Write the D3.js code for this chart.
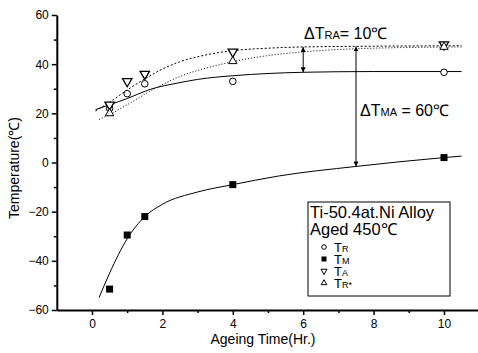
<!DOCTYPE html>
<html>
<head>
<meta charset="utf-8">
<script src="https://cdn.jsdelivr.net/npm/d3@7"></script>
<style>
  body { margin: 0; background: #fff; }
  text { font-family: Arial, "Liberation Sans", sans-serif; fill: #000; }
</style>
</head>
<body>
<div id="chart"></div>
<script>
// measured points (ageing time in hours, temperature in C)
const times = [0.5, 1, 1.5, 4, 10];
const tR = [22, 28, 32, 33, 36.7];
const tM = [-51.5, -29.5, -22, -9, 2];
const tA = [23.5, 33, 36, 45, 48];
const tRStarTimes = [0.5, 4, 10];
const tRStar = [20, 41.2, 47];

// fitted curves
const fitR = [[0.1, 21.5], [0.5, 23.5], [1, 26], [1.6, 29.5], [2.5, 32.5], [3, 33.8], [4, 35.3], [5, 36.2], [6, 36.7], [8, 37], [10.5, 37]];
const fitA = [[0.1, 21], [0.5, 24.5], [1, 29.5], [1.5, 34], [2, 38], [2.5, 41], [3, 43], [4, 45.5], [5, 46.5], [6, 47], [8, 47.3], [10.5, 47.5]];
const fitRStar = [[0.2, 17.5], [0.5, 19.5], [1, 23.5], [1.65, 29], [2.5, 35], [3.4, 39], [4, 41], [5, 43.5], [6, 45], [8, 46.5], [10.5, 47]];
const fitM = [[0.2, -55], [0.5, -45], [1, -31], [1.5, -22], [2, -17], [3, -12], [4, -9], [5.3, -5.5], [7.5, -1.6], [10, 2], [10.5, 2.6]];

// annotation arrows: [time, top value, bottom value]
const arrowRA = [6, 47, 36.7];
const arrowMA = [7.5, 47.2, -1.6];

const yTicks = [-60, -40, -20, 0, 20, 40, 60];
const yMinor = [-50, -30, -10, 10, 30, 50];
const xTicks = [0, 2, 4, 6, 8, 10];
const xMinor = [1, 3, 5, 7, 9];

const width = 478, height = 353;

const x = d3.scaleLinear().domain([-1, 11]).range([56.8, 479.2]);
const y = d3.scaleLinear().domain([-60, 60]).range([310, 15]);

const svg = d3.select('#chart').append('svg')
  .attr('width', width)
  .attr('height', height);

const defs = svg.append('defs');
defs.append('marker')
  .attr('id', 'arrow')
  .attr('viewBox', '0 0 6 6')
  .attr('refX', 6).attr('refY', 3)
  .attr('markerWidth', 5).attr('markerHeight', 5)
  .attr('orient', 'auto-start-reverse')
  .append('path')
  .attr('d', 'M0,0L6,3L0,6Z')
  .attr('fill', '#000');

// axes
svg.append('g')
  .attr('transform', 'translate(' + x(-1) + ',0)')
  .call(d3.axisLeft(y).tickValues(yTicks).tickSize(5).tickSizeOuter(0).tickPadding(3));
svg.append('g')
  .attr('transform', 'translate(' + x(-1) + ',0)')
  .call(d3.axisLeft(y).tickValues(yMinor).tickSize(3).tickFormat(''))
  .select('.domain').remove();

svg.append('g')
  .attr('transform', 'translate(0,' + y(-60) + ')')
  .call(d3.axisBottom(x).tickValues(xTicks).tickSize(5).tickSizeOuter(0).tickPadding(4));
svg.append('g')
  .attr('transform', 'translate(0,' + y(-60) + ')')
  .call(d3.axisBottom(x).tickValues(xMinor).tickSize(3).tickFormat(''))
  .select('.domain').remove();

svg.selectAll('.domain').attr('stroke-width', 2);
svg.selectAll('.tick line').attr('stroke-width', 1.5);
svg.selectAll('.tick text')
  .style('font-size', '12px')
  .style('font-family', 'Arial, "Liberation Sans", sans-serif');

svg.append('text')
  .attr('x', 263).attr('y', 344)
  .attr('text-anchor', 'middle')
  .style('font-size', '14px')
  .text('Ageing Time(Hr.)');

svg.append('text')
  .attr('transform', 'translate(19,168) rotate(-90)')
  .attr('text-anchor', 'middle')
  .style('font-size', '14px')
  .text('Temperature(℃)');

// fitted curves
const line = d3.line()
  .x(d => x(d[0]))
  .y(d => y(d[1]))
  .curve(d3.curveMonotoneX);

svg.append('path').datum(fitR)
  .attr('d', line).attr('fill', 'none')
  .attr('stroke', '#000').attr('stroke-width', 1);
svg.append('path').datum(fitA)
  .attr('d', line).attr('fill', 'none')
  .attr('stroke', '#000').attr('stroke-width', 1)
  .attr('stroke-dasharray', '2,2');
svg.append('path').datum(fitRStar)
  .attr('d', line).attr('fill', 'none')
  .attr('stroke', '#000').attr('stroke-width', 1)
  .attr('stroke-dasharray', '1,2');
svg.append('path').datum(fitM)
  .attr('d', line).attr('fill', 'none')
  .attr('stroke', '#000').attr('stroke-width', 1);

// symbols
const triDown = d3.symbol().type(d3.symbolTriangle).size(38);
const triUp = d3.symbol().type(d3.symbolTriangle).size(30);

svg.append('g').selectAll('circle')
  .data(times.map((t, i) => [t, tR[i]]))
  .enter().append('circle')
  .attr('cx', d => x(d[0])).attr('cy', d => y(d[1]))
  .attr('r', 3.3)
  .attr('fill', '#fff').attr('stroke', '#000').attr('stroke-width', 1);

svg.append('g').selectAll('rect')
  .data(times.map((t, i) => [t, tM[i]]))
  .enter().append('rect')
  .attr('x', d => x(d[0]) - 3.5).attr('y', d => y(d[1]) - 3.5)
  .attr('width', 7).attr('height', 7)
  .attr('fill', '#000');

svg.append('g').selectAll('path')
  .data(times.map((t, i) => [t, tA[i]]))
  .enter().append('path')
  .attr('d', triDown)
  .attr('transform', d => 'translate(' + x(d[0]) + ',' + y(d[1]) + ') rotate(180)')
  .attr('fill', '#fff').attr('stroke', '#000').attr('stroke-width', 1.3);

svg.append('g').selectAll('path')
  .data(tRStarTimes.map((t, i) => [t, tRStar[i]]))
  .enter().append('path')
  .attr('d', triUp)
  .attr('transform', d => 'translate(' + x(d[0]) + ',' + y(d[1]) + ')')
  .attr('fill', '#fff').attr('stroke', '#000').attr('stroke-width', 1);

// annotation arrows
[arrowRA, arrowMA].forEach(a => {
  svg.append('line')
    .attr('x1', x(a[0])).attr('x2', x(a[0]))
    .attr('y1', y(a[1])).attr('y2', y(a[2]))
    .attr('stroke', '#000').attr('stroke-width', 1)
    .attr('marker-start', 'url(#arrow)')
    .attr('marker-end', 'url(#arrow)');
});

const ra = svg.append('text').attr('x', 304).attr('y', 39).style('font-size', '16px');
ra.append('tspan').text('ΔT');
ra.append('tspan').style('font-size', '11px').text('RA');
ra.append('tspan').text('= 10℃');

const ma = svg.append('text').attr('x', 360).attr('y', 116).style('font-size', '16px');
ma.append('tspan').text('ΔT');
ma.append('tspan').style('font-size', '11px').text('MA');
ma.append('tspan').text(' = 60℃');

// legend
const legend = svg.append('g');
legend.append('rect')
  .attr('x', 308).attr('y', 202)
  .attr('width', 142).attr('height', 94)
  .attr('fill', '#fff').attr('stroke', '#000').attr('stroke-width', 1);
legend.append('text').attr('x', 310).attr('y', 218).style('font-size', '16.5px').text('Ti-50.4at.Ni Alloy');
legend.append('text').attr('x', 310).attr('y', 235).style('font-size', '16.5px').text('Aged 450℃');

const legendRows = [
  { sym: 'circle', main: 'T', sub: 'R' },
  { sym: 'square', main: 'T', sub: 'M' },
  { sym: 'down', main: 'T', sub: 'A' },
  { sym: 'up', main: 'T', sub: 'R*' }
];
legendRows.forEach((r, i) => {
  const cy = 247 + i * 12;
  const g = legend.append('g').attr('transform', 'translate(324,' + cy + ')');
  if (r.sym === 'circle') {
    g.append('circle').attr('r', 2.3).attr('fill', '#fff').attr('stroke', '#000');
  } else if (r.sym === 'square') {
    g.append('rect').attr('x', -2.5).attr('y', -2.5).attr('width', 5).attr('height', 5).attr('fill', '#000');
  } else if (r.sym === 'down') {
    g.append('path').attr('d', d3.symbol().type(d3.symbolTriangle).size(16)).attr('transform', 'rotate(180)')
      .attr('fill', '#fff').attr('stroke', '#000');
  } else {
    g.append('path').attr('d', d3.symbol().type(d3.symbolTriangle).size(14))
      .attr('fill', '#fff').attr('stroke', '#000');
  }
  const t = legend.append('text').attr('x', 334).attr('y', cy + 4.5).style('font-size', '13px');
  t.append('tspan').text(r.main);
  t.append('tspan').style('font-size', '9px').text(r.sub);
});
</script>
</body>
</html>
